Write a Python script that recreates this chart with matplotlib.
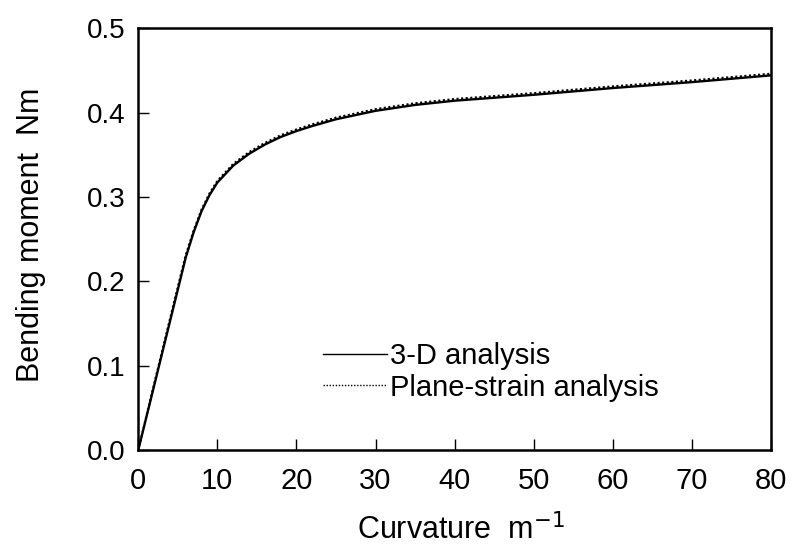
import matplotlib
matplotlib.use("Agg")
import matplotlib.pyplot as plt

curv_3d = [0, 2, 4, 6, 7, 8, 9, 10, 12, 14, 16, 18, 20, 22, 25, 30, 35, 40, 50, 60, 70, 80]
moment_3d = [0, 0.076, 0.152, 0.228, 0.258, 0.283, 0.302, 0.317, 0.337, 0.351, 0.362, 0.371,
             0.378, 0.384, 0.392, 0.402, 0.409, 0.414, 0.421, 0.429, 0.436, 0.444]
curv_ps = [0, 2, 4, 6, 7, 8, 9, 10, 12, 14, 16, 18, 20, 22, 25, 30, 35, 40, 50, 60, 70, 80]
moment_ps = [0, 0.078, 0.155, 0.231, 0.260, 0.285, 0.304, 0.319, 0.339, 0.353, 0.364, 0.373,
             0.380, 0.386, 0.394, 0.404, 0.411, 0.416, 0.423, 0.431, 0.438, 0.446]
xticks = [0, 10, 20, 30, 40, 50, 60, 70, 80]
yticks = [0.0, 0.1, 0.2, 0.3, 0.4, 0.5]

plt.rcParams['font.family'] = ['Liberation Sans', 'DejaVu Sans']
fig = plt.figure(figsize=(7.99, 5.51), dpi=100)
ax = fig.add_axes([0.173, 0.183, 0.792, 0.766])
ax.plot(curv_3d, moment_3d, color='black', lw=1.7, ls='-', label='3-D analysis')
ax.plot(curv_ps, moment_ps, color='black', lw=1.5, ls=(0, (1, 1.2)), label='Plane-strain analysis')
ax.set_xlim(0, 80)
ax.set_ylim(0, 0.5)
ax.set_xticks(xticks)
ax.set_xticklabels([str(v) for v in xticks])
ax.set_yticks(yticks)
ax.set_yticklabels([f"{v:.1f}" for v in yticks])
ax.tick_params(direction='in', length=8, width=1)
ax.tick_params(axis='x', labelsize=21, pad=12)
ax.tick_params(axis='y', labelsize=20, pad=9)
for s in ax.spines.values():
    s.set_linewidth(1.8)
ax.set_xlabel('Curvature  m$^{-1}$', fontsize=22)
ax.set_ylabel('Bending moment  Nm', fontsize=22)
ax.xaxis.set_label_coords(0.51, -0.152)
ax.yaxis.set_label_coords(-0.145, 0.51)
leg = ax.legend(loc='upper left', bbox_to_anchor=(0.25, 0.318), frameon=False, fontsize=21,
                handlelength=2.2, handletextpad=0.1, labelspacing=0.12)
for h in leg.get_lines():
    h.set_linewidth(1.0)
fig.savefig('out.png', dpi=100)
